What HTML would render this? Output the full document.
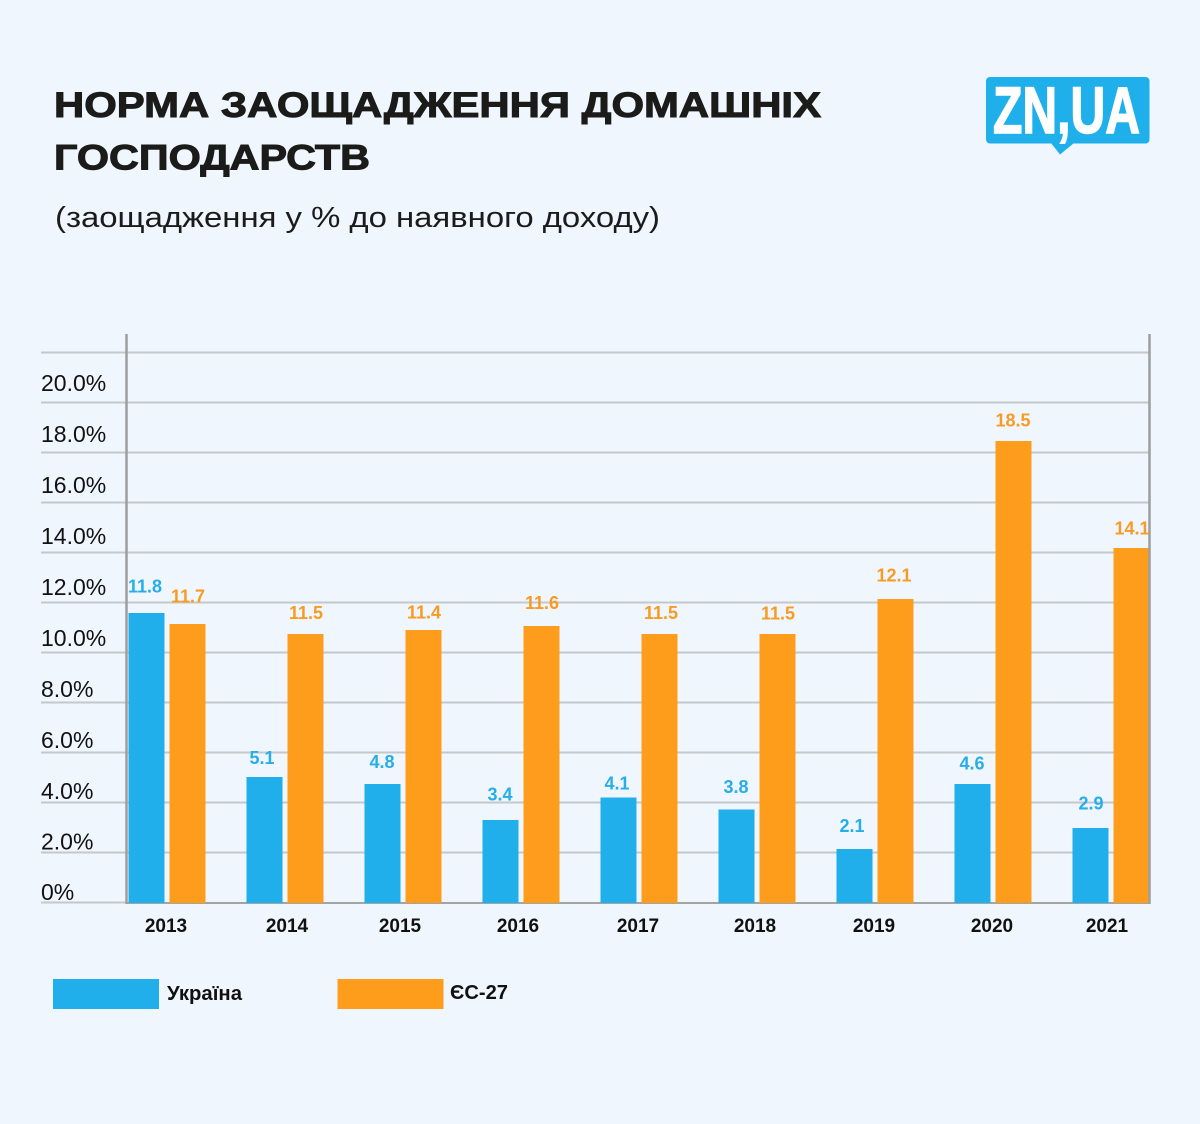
<!DOCTYPE html>
<html>
<head>
<meta charset="utf-8">
<style>
  html,body{margin:0;padding:0;background:#eff6fd;}
  svg{display:block;}
  .t{font-family:"Liberation Sans","Noto Sans CJK SC",sans-serif;}
</style>
</head>
<body>
<svg width="1200" height="1124" viewBox="0 0 1200 1124" xmlns="http://www.w3.org/2000/svg">
  <rect x="0" y="0" width="1200" height="1124" fill="#eff6fd"/>

  <!-- Title -->
  <text class="t" x="54" y="117" font-size="35" font-weight="bold" fill="#1b1b19" stroke="#1b1b19" stroke-width="1" textLength="767" lengthAdjust="spacingAndGlyphs">НОРМА ЗАОЩАДЖЕННЯ ДОМАШНІХ</text>
  <text class="t" x="54" y="169.5" font-size="35" font-weight="bold" fill="#1b1b19" stroke="#1b1b19" stroke-width="1" textLength="316" lengthAdjust="spacingAndGlyphs">ГОСПОДАРСТВ</text>
  <text class="t" x="55" y="227" font-size="29" fill="#1b1b19" textLength="605" lengthAdjust="spacingAndGlyphs">(заощадження у % до наявного доходу)</text>

  <!-- Logo -->
  <rect x="986" y="77" width="163.5" height="66.5" rx="4" fill="#1fb0ec"/>
  <polygon points="1051,143 1074,143 1060,154.5" fill="#1fb0ec"/>
  <text class="t" x="993" y="133" font-size="66" font-weight="bold" fill="#ffffff" stroke="#ffffff" stroke-width="1.5" textLength="147" lengthAdjust="spacingAndGlyphs">ZN,UA</text>

  <!-- Gridlines -->
  <g stroke="#c5c8cb" stroke-width="2">
    <line x1="41" y1="352.5" x2="1149" y2="352.5"/>
    <line x1="41" y1="402.5" x2="1149" y2="402.5"/>
    <line x1="41" y1="452.5" x2="1149" y2="452.5"/>
    <line x1="41" y1="502.5" x2="1149" y2="502.5"/>
    <line x1="41" y1="552.5" x2="1149" y2="552.5"/>
    <line x1="41" y1="602.5" x2="1149" y2="602.5"/>
    <line x1="41" y1="652.5" x2="1149" y2="652.5"/>
    <line x1="41" y1="702.5" x2="1149" y2="702.5"/>
    <line x1="41" y1="752.5" x2="1149" y2="752.5"/>
    <line x1="41" y1="802.5" x2="1149" y2="802.5"/>
    <line x1="41" y1="852.5" x2="1149" y2="852.5"/>
    <line x1="41" y1="902.5" x2="127" y2="902.5"/>
  </g>

  <!-- Y labels -->
  <g class="t" font-size="23" fill="#111111">
    <text x="41" y="391">20.0%</text>
    <text x="41" y="442">18.0%</text>
    <text x="41" y="493">16.0%</text>
    <text x="41" y="544">14.0%</text>
    <text x="41" y="595">12.0%</text>
    <text x="41" y="646">10.0%</text>
    <text x="41" y="697">8.0%</text>
    <text x="41" y="748">6.0%</text>
    <text x="41" y="799">4.0%</text>
    <text x="41" y="849.5">2.0%</text>
    <text x="41" y="900">0%</text>
  </g>

  <!-- bottom axis -->
  <line x1="126" y1="903" x2="1150" y2="903" stroke="#a2a4a6" stroke-width="2"/>

  <!-- Bars: Ukraine -->
  <g fill="#20afeb">
    <rect x="128.5" y="613" width="36" height="290"/>
    <rect x="246.5" y="777" width="36" height="126"/>
    <rect x="364.5" y="784" width="36" height="119"/>
    <rect x="482.5" y="820" width="36" height="83"/>
    <rect x="600.5" y="797.5" width="36" height="105.5"/>
    <rect x="718.5" y="809.5" width="36" height="93.5"/>
    <rect x="836.5" y="849" width="36" height="54"/>
    <rect x="954.5" y="784" width="36" height="119"/>
    <rect x="1072.5" y="828" width="36" height="75"/>
  </g>
  <!-- Bars: EU-27 -->
  <g fill="#fd9d1b">
    <rect x="169.5" y="624" width="36" height="279"/>
    <rect x="287.5" y="634" width="36" height="269"/>
    <rect x="405.5" y="630" width="36" height="273"/>
    <rect x="523.5" y="626" width="36" height="277"/>
    <rect x="641.5" y="634" width="36" height="269"/>
    <rect x="759.5" y="634" width="36" height="269"/>
    <rect x="877.5" y="599" width="36" height="304"/>
    <rect x="995.5" y="441" width="36" height="462"/>
    <rect x="1113.5" y="548" width="35.5" height="355"/>
  </g>

  <!-- Vertical axes -->
  <line x1="126.5" y1="334" x2="126.5" y2="904" stroke="#9c9ea0" stroke-width="2.5"/>
  <line x1="1149.5" y1="334" x2="1149.5" y2="904" stroke="#9c9ea0" stroke-width="2.5"/>

  <!-- Value labels Ukraine -->
  <g class="t" font-size="18" font-weight="bold" fill="#27ade9" text-anchor="middle">
    <text x="145" y="592.5">11.8</text>
    <text x="262" y="764">5.1</text>
    <text x="382" y="768">4.8</text>
    <text x="500" y="800.5">3.4</text>
    <text x="617" y="789.5">4.1</text>
    <text x="736" y="793">3.8</text>
    <text x="852" y="832">2.1</text>
    <text x="972" y="769.5">4.6</text>
    <text x="1091" y="809.5">2.9</text>
  </g>
  <!-- Value labels EU -->
  <g class="t" font-size="18" font-weight="bold" fill="#f99b22" text-anchor="middle">
    <text x="188" y="602.5">11.7</text>
    <text x="306" y="619">11.5</text>
    <text x="424" y="618.5">11.4</text>
    <text x="542" y="609">11.6</text>
    <text x="661" y="619">11.5</text>
    <text x="778" y="619.5">11.5</text>
    <text x="894" y="581.5">12.1</text>
    <text x="1013" y="426.5">18.5</text>
    <text x="1132" y="534.5">14.1</text>
  </g>

  <!-- X labels -->
  <g class="t" font-size="19" font-weight="bold" fill="#111111" text-anchor="middle">
    <text x="166" y="932">2013</text>
    <text x="287" y="932">2014</text>
    <text x="400" y="932">2015</text>
    <text x="518" y="932">2016</text>
    <text x="638" y="932">2017</text>
    <text x="755" y="932">2018</text>
    <text x="874" y="932">2019</text>
    <text x="992" y="932">2020</text>
    <text x="1107" y="932">2021</text>
  </g>

  <!-- Legend -->
  <rect x="53" y="979" width="106" height="30" fill="#20afeb"/>
  <text class="t" x="167" y="1000" font-size="20" font-weight="bold" fill="#111111" textLength="75" lengthAdjust="spacingAndGlyphs">Україна</text>
  <rect x="337.5" y="979" width="106" height="30" fill="#fd9d1b"/>
  <text class="t" x="450" y="999" font-size="20" font-weight="bold" fill="#111111" textLength="58" lengthAdjust="spacingAndGlyphs">ЄС-27</text>
</svg>
</body>
</html>
